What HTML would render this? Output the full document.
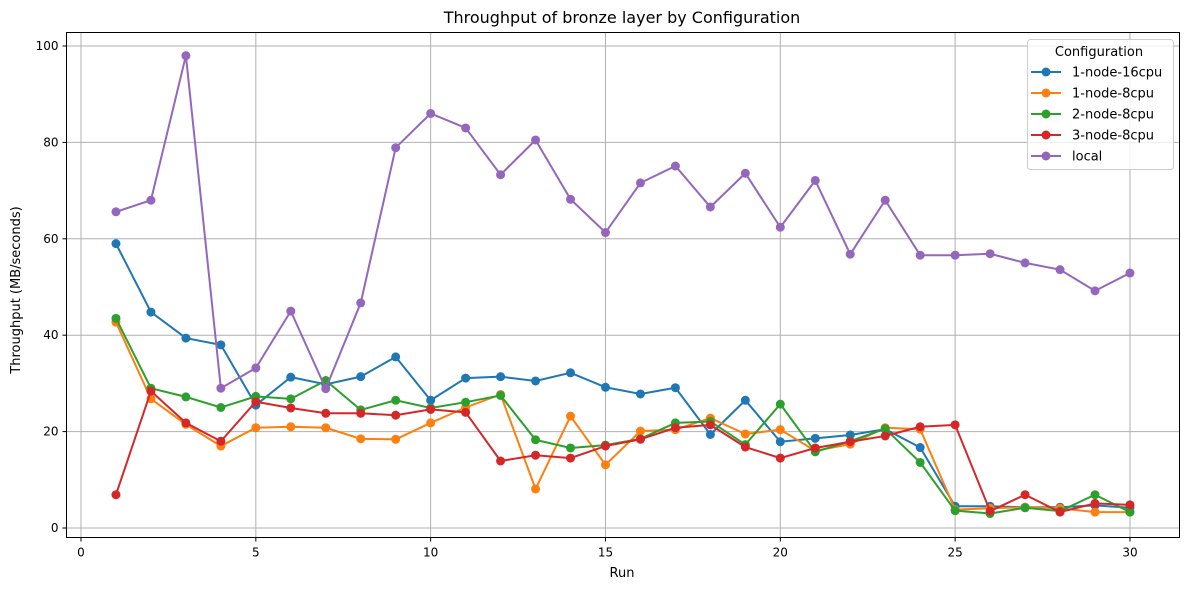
<!DOCTYPE html>
<html><head><meta charset="utf-8"><style>
body{margin:0;background:#fff;font-family:"Liberation Sans","DejaVu Sans",sans-serif;}
svg text{font-family:"DejaVu Sans","Liberation Sans",sans-serif;}
</style></head><body>
<svg id="chart" width="1189" height="590" xmlns="http://www.w3.org/2000/svg">
<rect width="1189" height="590" fill="#fff"/>
<text x="622" y="23" font-size="16" text-anchor="middle">Throughput of bronze layer by Configuration</text>
<g id="grid"></g><g id="axes"></g><g id="series"></g>
<text x="622" y="577" font-size="13" text-anchor="middle">Run</text>
<text x="20" y="290" font-size="13" text-anchor="middle" transform="rotate(-90 20 290)">Throughput (MB/seconds)</text>
<g id="legend"></g>
</svg>
<script>
const runs=[1,2,3,4,5,6,7,8,9,10,11,12,13,14,15,16,17,18,19,20,21,22,23,24,25,26,27,28,29,30];
const seriesNames=["1-node-16cpu","1-node-8cpu","2-node-8cpu","3-node-8cpu","local"];
const seriesColors=["#1f77b4","#ff7f0e","#2ca02c","#d62728","#9467bd"];
const s16=[59.0,44.8,39.4,38,25.5,31.3,29.8,31.4,35.5,26.5,31.1,31.4,30.5,32.2,29.2,27.8,29.1,19.4,26.5,17.9,18.6,19.3,20.5,16.7,4.5,4.5,4.3,4.3,4.7,4.2];
const s18=[42.7,26.8,21.5,17,20.8,21,20.8,18.5,18.4,21.8,25,27.7,8.1,23.2,13.1,20.1,20.4,22.8,19.5,20.4,16,17.4,20.8,20.5,3.8,4.1,4.3,4.1,3.3,3.3];
const s28=[43.5,29,27.2,25,27.3,26.8,30.6,24.5,26.5,24.9,26.1,27.5,18.3,16.6,17.2,18.5,21.8,22.1,17.3,25.7,15.8,18,20.6,13.6,3.6,3,4.2,3.5,6.9,3.3];
const s38=[6.9,28.4,21.8,18,26.2,24.9,23.8,23.8,23.4,24.6,24,13.9,15.1,14.5,17,18.4,20.8,21.4,16.8,14.5,16.6,17.9,19.1,21,21.4,3.5,6.9,3.3,5.1,4.8];
const sLocal=[65.6,68,98,29,33.2,45,28.9,46.7,78.9,86,83,73.3,80.5,68.2,61.3,71.6,75.1,66.6,73.6,62.4,72.1,56.8,68,56.6,56.6,56.9,55,53.6,49.2,52.9];
const xTicks=[0,5,10,15,20,25,30];
const yTicks=[0,20,40,60,80,100];
const allSeries=[s16,s18,s28,s38,sLocal];
const L=66.5,R=1179.5,T=32.5,B=537.5;
const xs=v=>81+v*(1130-116)/29;
const ys=v=>528-v*4.82;
const NS="http://www.w3.org/2000/svg";
function mk(tag,attrs,parent){const e=document.createElementNS(NS,tag);for(const k in attrs)e.setAttribute(k,attrs[k]);parent.appendChild(e);return e;}
const grid=document.getElementById('grid'),axes=document.getElementById('axes'),ser=document.getElementById('series'),leg=document.getElementById('legend');
xTicks.forEach(t=>{const x=xs(t);
 const g=mk('line',{x1:x,x2:x,y1:T,y2:B,stroke:'#b0b0b0','stroke-width':1},grid);
 
 
 mk('line',{x1:x,x2:x,y1:B,y2:B+4,stroke:'#000'},axes);
 const tx=mk('text',{x:x,y:B+19,'font-size':12,'text-anchor':'middle'},axes);tx.textContent=t;
 
 
});
yTicks.forEach(t=>{const y=ys(t);
 const g=mk('line',{x1:L,x2:R,y1:y,y2:y,stroke:'#b0b0b0','stroke-width':1},grid);
 
 
 mk('line',{x1:L-4,x2:L,y1:y,y2:y,stroke:'#000'},axes);
 const tx=mk('text',{x:L-8,y:y+4,'font-size':12,'text-anchor':'end'},axes);tx.textContent=t;
 
 
});
const frame=mk('rect',{x:L,y:T,width:R-L,height:B-T,fill:'none',stroke:'#000','stroke-width':1},axes);


allSeries.forEach((s,i)=>{
 const g=mk('g',{},ser);
 
 
 const pl=mk('polyline',{points:s.map((v,j)=>xs(runs[j])+','+ys(v)).join(' '),fill:'none',stroke:seriesColors[i],'stroke-width':2},g);
 
 
 s.forEach((v,j)=>{const c=mk('circle',{cx:xs(runs[j]),cy:ys(v),r:4.5,fill:seriesColors[i]},g);
  
  });
});
const lb=mk('rect',{x:1027.5,y:39.5,width:146,height:130,rx:3,fill:'#fff','fill-opacity':0.8,stroke:'#ccc'},leg);


const lt=mk('text',{x:1099,y:56,'font-size':13,'text-anchor':'middle'},leg);lt.textContent='Configuration';


seriesNames.forEach((n,i)=>{const y=72+i*21;
 const g=mk('g',{},leg);
 
 
 mk('line',{x1:1031,x2:1061,y1:y,y2:y,stroke:seriesColors[i],'stroke-width':2},g);
 mk('circle',{cx:1046,cy:y,r:4.5,fill:seriesColors[i]},g);
 const t=mk('text',{x:1072,y:y+4.5,'font-size':13},g);t.textContent=n;
});
</script>
</body></html>
